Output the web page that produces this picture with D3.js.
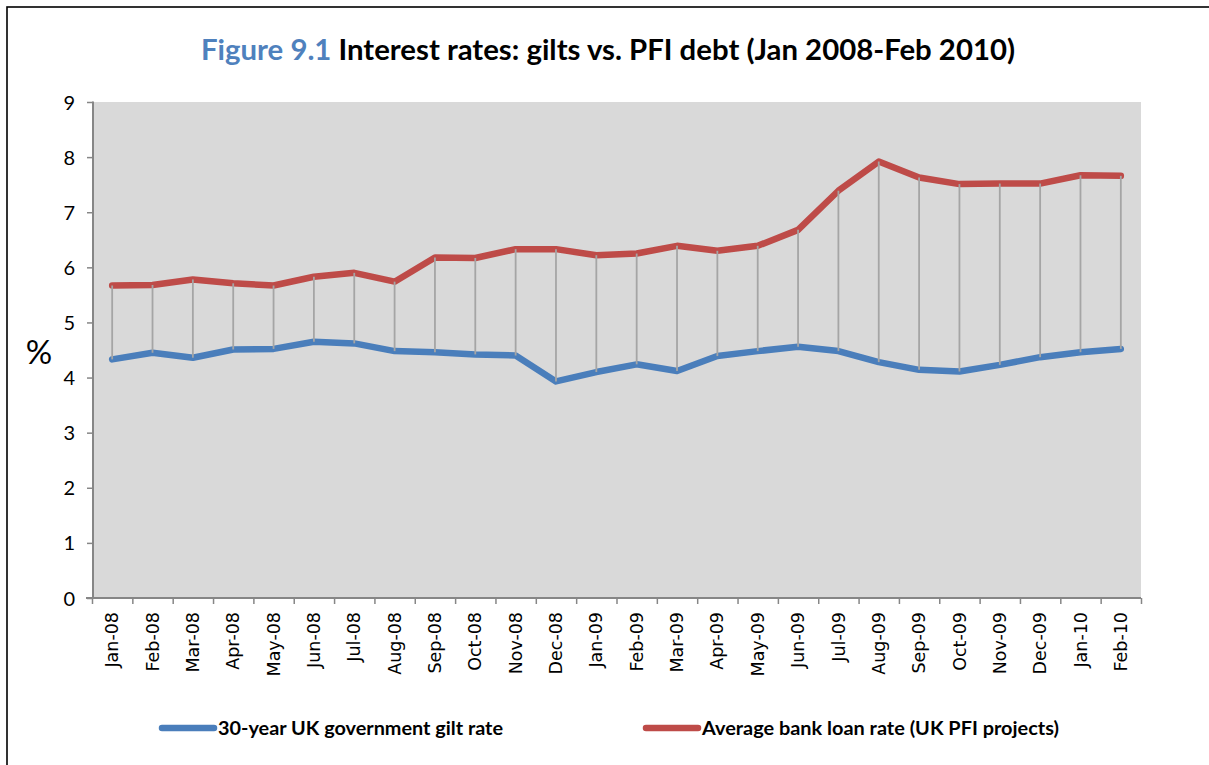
<!DOCTYPE html>
<html>
<head>
<meta charset="utf-8">
<script src="https://cdn.jsdelivr.net/npm/d3@7"></script>
<style>
  html, body { margin: 0; padding: 0; background: #ffffff; }
  svg { display: block; }
</style>
</head>
<body>
<svg id="chart" width="1209" height="765"></svg>
<script>
// Monthly categories, Jan 2008 – Feb 2010
const months = ["Jan-08","Feb-08","Mar-08","Apr-08","May-08","Jun-08","Jul-08","Aug-08","Sep-08","Oct-08","Nov-08","Dec-08",
                "Jan-09","Feb-09","Mar-09","Apr-09","May-09","Jun-09","Jul-09","Aug-09","Sep-09","Oct-09","Nov-09","Dec-09",
                "Jan-10","Feb-10"];

// 30-year UK government gilt rate (%)
const giltRate = [4.33, 4.45, 4.36, 4.51, 4.52, 4.65, 4.62, 4.48, 4.46, 4.42, 4.40, 3.93,
                  4.10, 4.24, 4.12, 4.39, 4.48, 4.56, 4.48, 4.28, 4.14, 4.11, 4.23, 4.37,
                  4.46, 4.52];

// Average bank loan rate on UK PFI projects (%)
const loanRate = [5.67, 5.68, 5.78, 5.71, 5.67, 5.83, 5.90, 5.74, 6.18, 6.17, 6.33, 6.33,
                  6.22, 6.25, 6.39, 6.30, 6.39, 6.68, 7.39, 7.92, 7.63, 7.51, 7.52, 7.52,
                  7.67, 7.66];

const yTicks = [0, 1, 2, 3, 4, 5, 6, 7, 8, 9];
const seriesNames = ["30-year UK government gilt rate", "Average bank loan rate (UK PFI projects)"];

const svg = d3.select("#chart");
const W = 1209, H = 765;

// chart frame
svg.append("rect").attr("x", 7).attr("y", 7).attr("width", W + 20).attr("height", H + 20)
   .attr("fill", "#ffffff").attr("stroke", "#000000").attr("stroke-width", 1.6);

const plot = { left: 93, right: 1141, top: 102, bottom: 598 };

const x = d3.scaleBand().domain(months).range([plot.left - 1, plot.right]).padding(0);
const cx = d => x(d) + x.bandwidth() / 2;
const y = d3.scaleLinear().domain([0, 9]).range([plot.bottom, plot.top]);

// plot area fill
svg.append("rect").attr("x", plot.left).attr("y", plot.top)
   .attr("width", plot.right - plot.left).attr("height", plot.bottom - plot.top)
   .attr("fill", "#d9d9d9");

const axisColor = "#868686";

// y axis
const yAxis = svg.append("g").attr("transform", `translate(${plot.left},0)`)
  .call(d3.axisLeft(y).tickValues(yTicks).tickSize(6).tickPadding(12).tickFormat(d3.format("d")));
yAxis.select(".domain").attr("stroke", axisColor).attr("stroke-width", 2).attr("d", `M0,${plot.top - 0.5}V${plot.bottom}`);
yAxis.selectAll(".tick line").attr("stroke", axisColor).attr("stroke-width", 1.5);
yAxis.selectAll(".tick text").attr("font-family", "Lato, 'Open Sans', sans-serif")
     .attr("font-size", 20).attr("fill", "#000").attr("dy", "0.35em");

// x axis: tick marks on category boundaries
const xb = d3.scaleLinear().domain([0, months.length]).range([plot.left - 1, plot.right]);
const xTickAxis = svg.append("g").attr("transform", `translate(0,${plot.bottom})`)
  .call(d3.axisBottom(xb).tickValues(d3.range(months.length + 1)).tickSize(6).tickFormat(""));
xTickAxis.select(".domain").attr("stroke", axisColor).attr("stroke-width", 2)
  .attr("d", `M${plot.left - 7},0H${plot.right}`);
xTickAxis.selectAll(".tick line").attr("stroke", axisColor).attr("stroke-width", 1.5);

// x axis: rotated month labels
const xLabelAxis = svg.append("g").attr("transform", `translate(0,${plot.bottom})`)
  .call(d3.axisBottom(x).tickSize(0).tickPadding(0));
xLabelAxis.select(".domain").remove();
xLabelAxis.selectAll(".tick text")
  .attr("font-family", "'DejaVu Sans', sans-serif").attr("font-size", 17.5).attr("fill", "#000")
  .attr("text-anchor", "end").attr("dy", "0.35em").attr("y", 0)
  .attr("transform", "translate(0,14) rotate(-90)");

// y axis unit label
svg.append("text").attr("x", 39).attr("y", 364).attr("text-anchor", "middle")
   .attr("font-family", "Lato, 'Open Sans', sans-serif").attr("font-size", 33).attr("fill", "#000")
   .text("%");

// series lines
const line = vals => d3.line().x((d, i) => cx(months[i])).y(d => y(d))(vals);
const blue = "#4a7ebb", red = "#be4b48";

svg.append("path").attr("d", line(giltRate)).attr("fill", "none").attr("stroke", blue)
   .attr("stroke-width", 6.5).attr("stroke-linejoin", "round").attr("stroke-linecap", "round");
svg.append("path").attr("d", line(loanRate)).attr("fill", "none").attr("stroke", red)
   .attr("stroke-width", 6.5).attr("stroke-linejoin", "round").attr("stroke-linecap", "round");

// high-low connectors between the two series
svg.append("g").selectAll("line").data(months).join("line")
   .attr("x1", d => cx(d)).attr("x2", d => cx(d))
   .attr("y1", (d, i) => y(giltRate[i])).attr("y2", (d, i) => y(loanRate[i]))
   .attr("stroke", "#a5a5a5").attr("stroke-width", 1.8);

// title
const title = svg.append("text").attr("x", 201).attr("y", 60)
   .attr("font-family", "Lato, 'Open Sans', sans-serif").attr("font-weight", "bold").attr("font-size", 29)
   .attr("textLength", 814).attr("lengthAdjust", "spacingAndGlyphs");
title.append("tspan").attr("fill", "#4f81bd").text("Figure 9.1");
title.append("tspan").attr("fill", "#000").text(" Interest rates: gilts vs. PFI debt (Jan 2008-Feb 2010)");

// legend
const legend = [
  { name: seriesNames[0], color: blue, x0: 162, x1: 214, tx: 218, tw: 285 },
  { name: seriesNames[1], color: red, x0: 646, x1: 698, tx: 702, tw: 357 }
];
const lg = svg.append("g").selectAll("g").data(legend).join("g");
lg.append("line").attr("x1", d => d.x0).attr("x2", d => d.x1).attr("y1", 728).attr("y2", 728)
  .attr("stroke", d => d.color).attr("stroke-width", 6.5).attr("stroke-linecap", "round");
lg.append("text").attr("x", d => d.tx).attr("y", 735)
  .attr("font-family", "Lato, 'Open Sans', sans-serif").attr("font-weight", "bold").attr("font-size", 19)
  .attr("fill", "#000").attr("textLength", d => d.tw).attr("lengthAdjust", "spacingAndGlyphs")
  .text(d => d.name);
</script>
</body>
</html>
